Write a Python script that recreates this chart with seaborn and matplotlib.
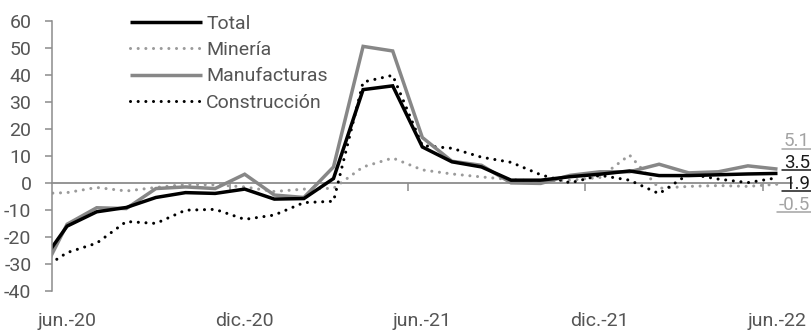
import numpy as np
import pandas as pd
import matplotlib
matplotlib.use("Agg")
import matplotlib.pyplot as plt
from matplotlib.lines import Line2D
import seaborn as sns

# Monthly year-on-year change (%), May 2020 - June 2022
meses = [
    "may.-20", "jun.-20", "jul.-20", "ago.-20", "sep.-20", "oct.-20", "nov.-20",
    "dic.-20", "ene.-21", "feb.-21", "mar.-21", "abr.-21", "may.-21", "jun.-21",
    "jul.-21", "ago.-21", "sep.-21", "oct.-21", "nov.-21", "dic.-21", "ene.-22",
    "feb.-22", "mar.-22", "abr.-22", "may.-22", "jun.-22",
]
total = [-31.4, -16.0, -10.7, -9.1, -5.4, -3.6, -3.9, -2.3, -6.0, -5.8, 1.6,
         34.5, 35.9, 13.3, 7.8, 5.9, 1.0, 1.0, 2.3, 3.2, 4.4, 2.7, 2.7, 3.0,
         3.3, 3.5]
mineria = [-4.0, -3.6, -1.7, -3.0, -1.7, -0.6, -0.7, -1.5, -3.2, -2.3, -2.0,
           5.9, 9.2, 4.8, 3.3, 2.2, 1.2, 0.6, 1.0, 2.0, 10.3, -2.0, -1.3,
           -1.0, -1.3, -0.5]
manufacturas = [-36.9, -15.3, -9.2, -9.5, -2.1, -1.5, -2.1, 3.2, -4.5, -5.4,
                5.9, 50.5, 48.8, 16.8, 8.0, 6.5, 0.0, -0.2, 2.8, 4.1, 4.1, 6.9,
                3.7, 4.1, 6.3, 5.1]
construccion = [-32.9, -25.8, -22.3, -14.3, -15.0, -10.1, -9.8, -13.5, -11.9,
                -7.3, -6.8, 37.3, 39.8, 13.8, 12.8, 9.5, 7.6, 3.0, 0.0, 2.8,
                1.0, -4.0, 3.3, 1.4, 0.1, 1.9]

etiquetas_x = ["jun.-20", "dic.-20", "jun.-21", "dic.-21", "jun.-22"]
ticks_y = list(range(-40, 61, 10))

sns.set_theme(style="white")
plt.rcParams["font.family"] = ["Roboto", "DejaVu Sans"]
plt.rcParams["axes.unicode_minus"] = False

GRIS_EJE = "#8c8c8c"
GRIS_TXT = "#555555"
PUNTOS = (0, (0.01, 2.5))
TAM = 14

df = pd.DataFrame({
    "mes": meses,
    "pos": np.arange(len(meses)),
    "Total": total,
    "Minería": mineria,
    "Manufacturas": manufacturas,
    "Construcción": construccion,
})

estilos = {
    "Total": dict(color="#000000", linestyle="-", linewidth=2.5),
    "Minería": dict(color="#9b9b9b", linestyle=PUNTOS, linewidth=2.2),
    "Manufacturas": dict(color="#878787", linestyle="-", linewidth=2.5),
    "Construcción": dict(color="#000000", linestyle=PUNTOS, linewidth=2.2),
}
orden_dibujo = ["Minería", "Construcción", "Manufacturas", "Total"]

W, H = 811, 330
fig = plt.figure(figsize=(W / 100, H / 100), dpi=100)
ax = fig.add_axes([52.3 / W, 1 - 291 / H, 740 / W, 270.3 / H])

for nombre in orden_dibujo:
    sns.lineplot(data=df, x="pos", y=nombre, ax=ax, legend=False,
                 dash_capstyle="round", solid_capstyle="butt",
                 solid_joinstyle="miter", **estilos[nombre])

# axis ranges: the first month sits half a step outside the plotting area
pos_ini = meses.index("jun.-20")
ax.set_xlim(pos_ini - 0.5, len(meses) - 0.5)
ax.set_ylim(ticks_y[0], ticks_y[-1])
ax.set_xlabel("")
ax.set_ylabel("")

# y axis
ax.set_yticks(ticks_y)
ax.tick_params(axis="y", which="major", direction="out", length=5, width=1.1,
               color=GRIS_EJE, pad=10, labelsize=TAM, labelcolor=GRIS_TXT,
               left=True)
for lado in ["top", "right", "bottom"]:
    ax.spines[lado].set_visible(False)
ax.spines["left"].set_color(GRIS_EJE)
ax.spines["left"].set_linewidth(1.1)

# month labels along the bottom
pos_etq = [meses.index(m) for m in etiquetas_x]
ax.set_xticks(pos_etq)
ax.set_xticklabels(etiquetas_x)
ax.tick_params(axis="x", length=0, pad=15, labelsize=TAM, labelcolor=GRIS_TXT,
               bottom=True)

# zero line with tick marks between semesters
y0 = (0 - ticks_y[0]) / (ticks_y[-1] - ticks_y[0])
sec = ax.secondary_xaxis(y0)
sec.set_xticks([p - 0.5 for p in pos_etq[1:]])
sec.set_xticklabels([])
sec.tick_params(axis="x", direction="out", length=6, width=1.1, color=GRIS_EJE)
for lado, sp in sec.spines.items():
    sp.set_color(GRIS_EJE)
    sp.set_linewidth(1.3)

# legend
nombres_leyenda = ["Total", "Minería", "Manufacturas", "Construcción"]
manijas = [Line2D([], [], dash_capstyle="round", solid_capstyle="butt",
                  **estilos[n]) for n in nombres_leyenda]
leg = ax.legend(manijas, nombres_leyenda, loc="upper left",
                bbox_to_anchor=(130 / W, 1 - 15 / H),
                bbox_transform=fig.transFigure, frameon=False,
                fontsize=TAM, handlelength=3.7, handletextpad=0.22,
                labelspacing=0.42, borderaxespad=0, borderpad=0)
for t in leg.get_texts():
    t.set_color(GRIS_TXT)

# final values, stacked at the right edge and underlined
colores_valor = {"Total": "#1a1a1a", "Construcción": "#1a1a1a",
                 "Manufacturas": "#a3a3a3", "Minería": "#a3a3a3"}
ultimos = sorted(((df[n].iloc[-1], n) for n in nombres_leyenda), reverse=True)
fig.canvas.draw()
rend = fig.canvas.get_renderer()
base_px = 146.5
for k, (valor, nombre) in enumerate(ultimos):
    y_px = base_px + 21.2 * k
    txt = fig.text(810 / W, 1 - y_px / H, f"{valor:.1f}", ha="right",
                   va="baseline", fontsize=13.5, color=colores_valor[nombre])
    bb = txt.get_window_extent(renderer=rend)
    y_lin = (H - y_px - 2.2) / H
    fig.add_artist(Line2D([(bb.x0 - 2) / W, 1.0], [y_lin, y_lin],
                          transform=fig.transFigure,
                          color=colores_valor[nombre], linewidth=1.1))

fig.savefig("out.png", dpi=100)
